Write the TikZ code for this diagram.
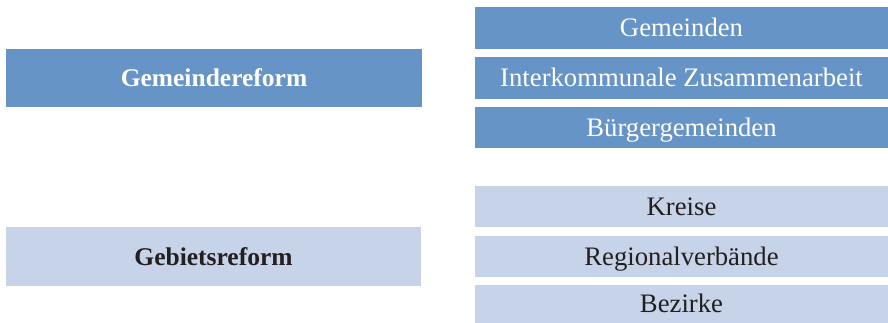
\documentclass[tikz,border=0pt]{standalone}
\usepackage{fontspec}
\setmainfont{Liberation Serif}
\definecolor{darkbox}{RGB}{103,148,198}
\definecolor{lightbox}{RGB}{198,211,232}
\definecolor{darktext}{RGB}{35,31,32}
\tikzset{
  box/.style={rectangle, inner sep=0pt, outer sep=0pt, draw=none, align=center},
  darkb/.style={box, fill=darkbox, text=white},
  lightb/.style={box, fill=lightbox, text=darktext},
  regfont/.style={font=\fontsize{26.7}{30}\selectfont, text height=17.6pt, text depth=0pt},
  boldfont/.style={font=\fontsize{25.5}{30}\selectfont\bfseries, text height=17.2pt, text depth=0pt},
}
\begin{document}
\begin{tikzpicture}[x=1pt,y=-1pt]
\useasboundingbox (0,0) rectangle (888,323);
\node[darkb, boldfont, minimum width=416pt, minimum height=58pt] (gr) at (214,78) {Gemeindereform};
\node[lightb, boldfont, minimum width=415pt, minimum height=59pt] (gb) at (213.5,256.5) {Gebietsreform};
\node[darkb, regfont, minimum width=413pt, minimum height=42pt] (g1) at (681.5,28) {Gemeinden};
\node[darkb, regfont, minimum width=413pt, minimum height=42pt] (g2) at (681.5,78) {Interkommunale Zusammenarbeit};
\node[darkb, regfont, minimum width=413pt, minimum height=41pt] (g3) at (681.5,127.5) {Bürgergemeinden};
\node[lightb, regfont, minimum width=413pt, minimum height=41pt] (k1) at (681.5,206.5) {Kreise};
\node[lightb, regfont, minimum width=413pt, minimum height=41pt] (k2) at (681.5,256.5) {Regionalverbände};
\node[lightb, regfont, minimum width=413pt, minimum height=38pt] (k3) at (681.5,304) {Bezirke};
\end{tikzpicture}
\end{document}
